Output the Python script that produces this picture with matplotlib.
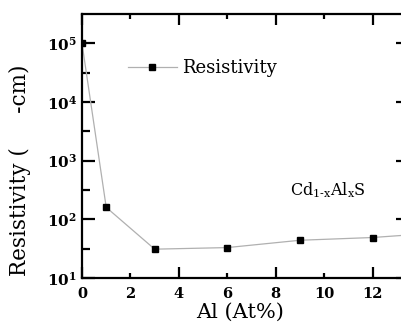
import math
import matplotlib
matplotlib.use("Agg")
import matplotlib.pyplot as plt
from matplotlib.ticker import FixedLocator, FuncFormatter, NullFormatter

# Al content (at%) and measured resistivity (ohm-cm)
al_content = [0, 1, 3, 6, 9, 12, 15]
resistivity = [1.0e5, 160, 31, 33, 44, 49, 60]

x_major = [0, 4, 8, 12]
x_minor = [2, 6, 10]
y_major = [1e1, 1e2, 1e3, 1e4, 1e5]
y_minor = [10 ** (k + 0.5) for k in range(1, 5)]

plt.rcParams["font.family"] = ["DejaVu Serif"]
plt.rcParams["mathtext.fontset"] = "dejavuserif"

fig = plt.figure(figsize=(4.02, 3.34), dpi=100)
ax = fig.add_axes([82 / 402, 56 / 334, 327 / 402, 264 / 334])

ax.plot(al_content, resistivity, color="#b0b0b0", lw=0.9,
        marker="s", markersize=5, markerfacecolor="black",
        markeredgecolor="black", label="Resistivity", clip_on=True)

ax.set_yscale("log")
ax.set_xlim(0, 13.5)
ax.set_ylim(10, 10 ** 5.5)

ax.xaxis.set_major_locator(FixedLocator(x_major))
ax.xaxis.set_minor_locator(FixedLocator(x_minor))
ax.xaxis.set_major_formatter(FuncFormatter(lambda v, p: f"{v:g}"))
ax.xaxis.set_minor_formatter(FuncFormatter(lambda v, p: f"{v:g}"))

ax.yaxis.set_major_locator(FixedLocator(y_major))
ax.yaxis.set_minor_locator(FixedLocator(y_minor))
ax.yaxis.set_major_formatter(
    FuncFormatter(lambda v, p: r"$\mathbf{10^{%d}}$" % round(math.log10(v))))
ax.yaxis.set_minor_formatter(NullFormatter())

for s in ax.spines.values():
    s.set_linewidth(1.6)

ax.tick_params(axis="both", which="both", direction="in",
               top=True, right=True, width=1.6)
ax.tick_params(axis="x", which="major", length=8, pad=6.5, labelsize=10.5)
ax.tick_params(axis="x", which="minor", length=3.5, pad=6.5, labelsize=10.5,
               labelbottom=True)
ax.tick_params(axis="y", which="major", length=9.5, pad=3.5, labelsize=11)
ax.tick_params(axis="y", which="minor", length=5.5)
for lbl in ax.get_xticklabels(which="both"):
    lbl.set_fontweight("bold")

ax.set_xlabel("Al (At%)", fontsize=15)
ax.set_ylabel("Resistivity (     -cm)", fontsize=15.5)
ax.xaxis.set_label_coords(0.483, -0.095)
ax.yaxis.set_label_coords(-0.155, 0.41)

ax.legend(loc="center left", bbox_to_anchor=(0.14, 0.795), frameon=False,
          fontsize=13, handlelength=2.7, handletextpad=0.3,
          borderaxespad=0, borderpad=0)

ax.text(290, 139, r"$\mathrm{Cd_{1\text{-}x}Al_xS}$", transform=None,
        fontsize=11.5, ha="left", va="baseline")

fig.savefig("out.png", dpi=100)
